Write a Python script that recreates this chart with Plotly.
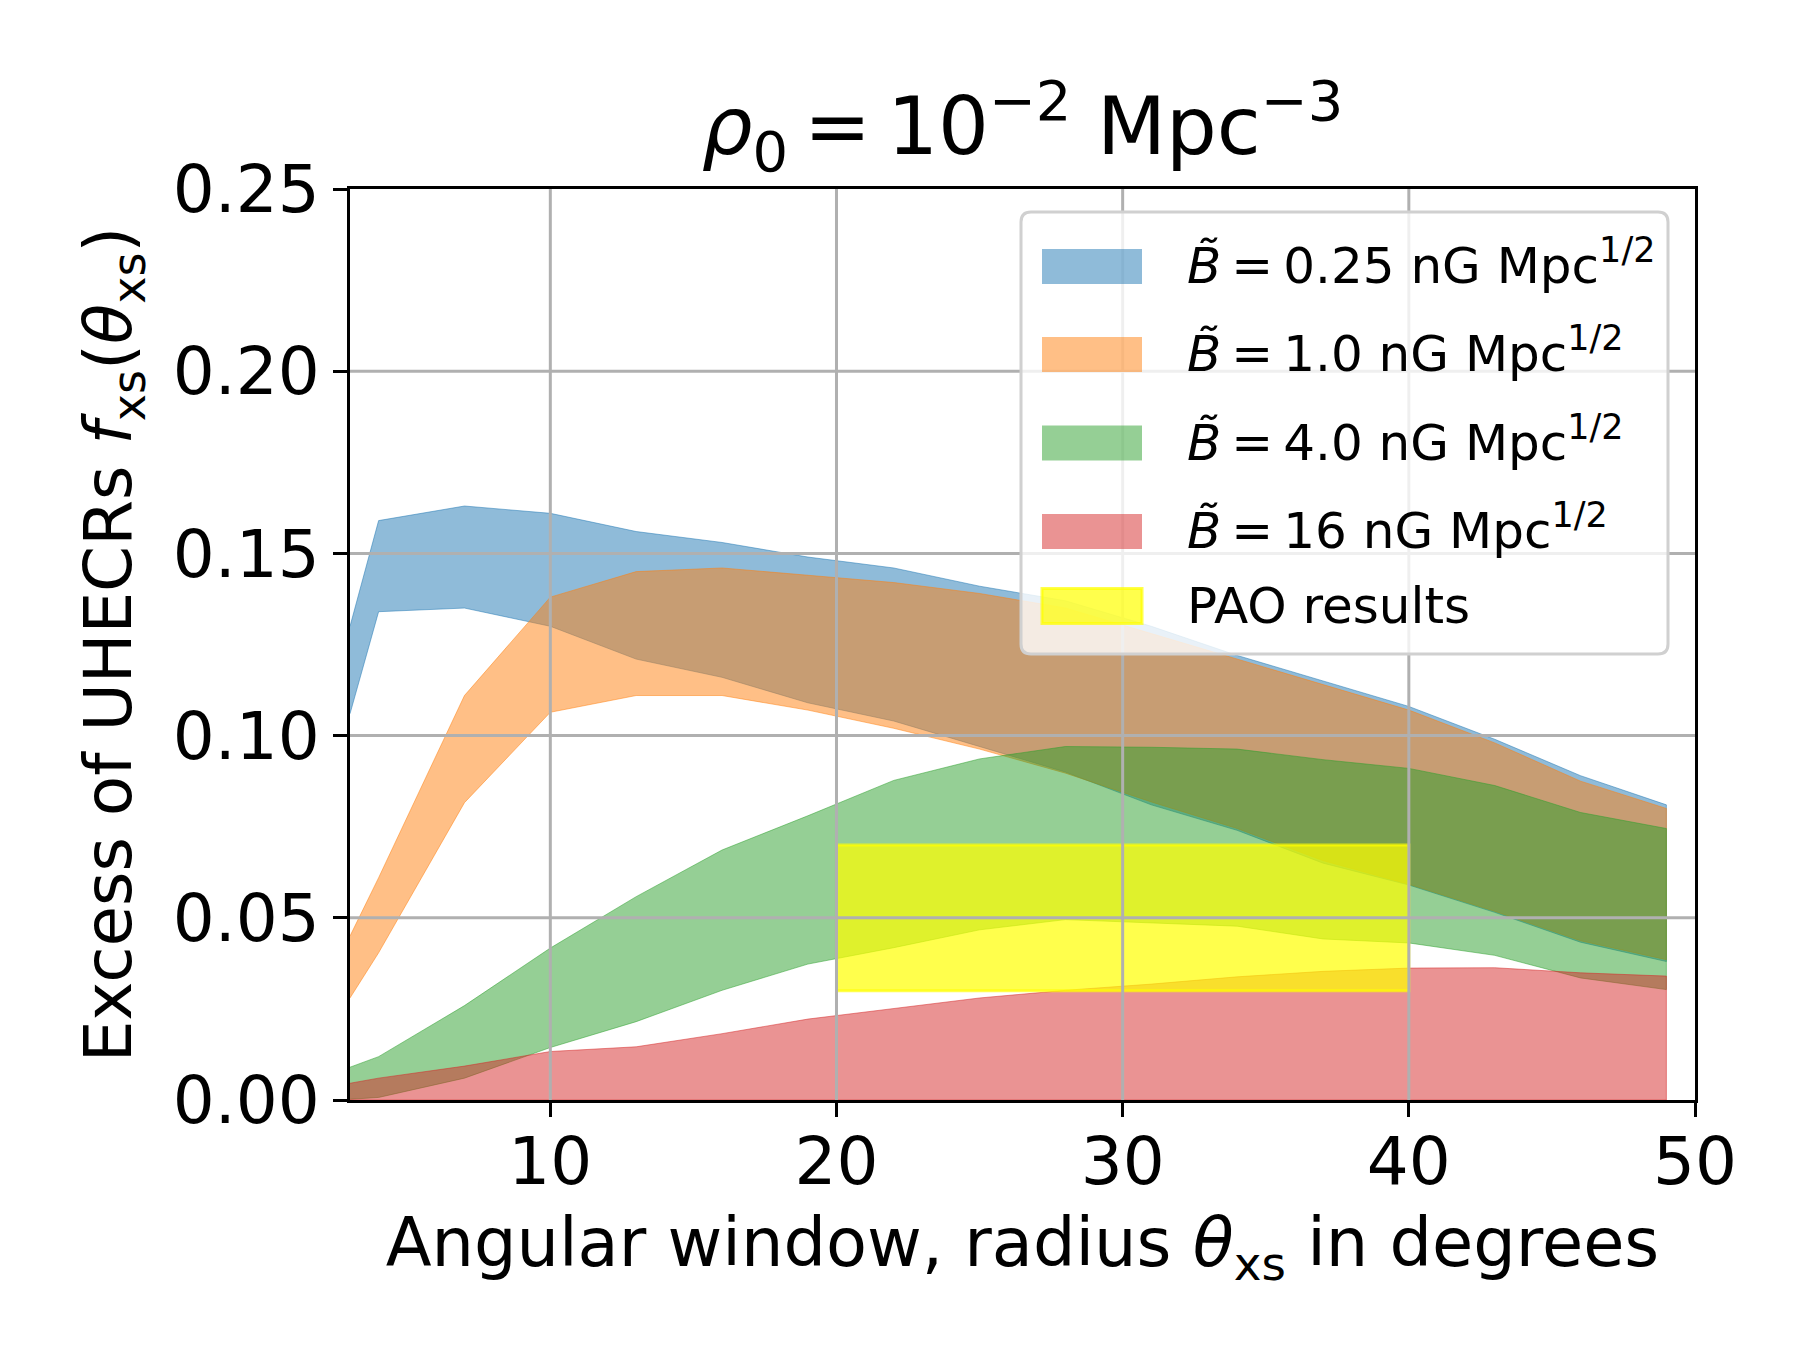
import plotly.graph_objects as go

# angular window radius (degrees) where the bands were sampled
x_deg = [3, 4, 7, 10, 13, 16, 19, 22, 25, 28, 31, 34, 37, 40, 43, 46, 49]

# B = 0.25 nG Mpc^1/2
b025_hi = [0.130, 0.159, 0.163, 0.161, 0.156, 0.153, 0.149, 0.146, 0.141, 0.137, 0.130,
           0.122, 0.115, 0.108, 0.099, 0.089, 0.081]
b025_lo = [0.106, 0.134, 0.135, 0.130, 0.121, 0.116, 0.109, 0.104, 0.097, 0.090, 0.081,
           0.074, 0.065, 0.059, 0.0515, 0.0433, 0.038]
# B = 1.0
b1_hi = [0.045, 0.061, 0.111, 0.138, 0.145, 0.146, 0.144, 0.142, 0.139, 0.135, 0.128,
         0.121, 0.114, 0.107, 0.098, 0.0875, 0.080]
b1_lo = [0.028, 0.0404, 0.0816, 0.1064, 0.111, 0.111, 0.107, 0.102, 0.0963, 0.0897, 0.0818,
         0.0745, 0.0657, 0.0592, 0.0518, 0.0437, 0.0385]
# B = 4.0
b4_hi = [0.009, 0.0119, 0.0259, 0.0417, 0.0558, 0.0686, 0.078, 0.0877, 0.0936, 0.0970, 0.0968,
         0.0963, 0.0934, 0.0910, 0.0863, 0.0789, 0.0745]
b4_lo = [0.0002, 0.0007, 0.0060, 0.0144, 0.0215, 0.0301, 0.0373, 0.0418, 0.0467, 0.0495, 0.0487,
         0.0477, 0.0442, 0.0431, 0.0397, 0.0335, 0.0303]
# B = 16
b16_hi = [0.0046, 0.0060, 0.0093, 0.0133, 0.0146, 0.0182, 0.0222, 0.0250, 0.0280, 0.0301, 0.0318,
          0.0338, 0.0353, 0.0362, 0.0363, 0.0349, 0.0340]
b16_lo = [0.0] * len(x_deg)

# PAO result box
pao_x = [20, 40]
pao_y = [0.03, 0.07]

TS = '\u2009'  # thin space, mathtext-like spacing around '='
labels = [f'<i>B̃</i>{TS}={TS}0.25 nG Mpc<sup>1/2</sup>',
          f'<i>B̃</i>{TS}={TS}1.0 nG Mpc<sup>1/2</sup>',
          f'<i>B̃</i>{TS}={TS}4.0 nG Mpc<sup>1/2</sup>',
          f'<i>B̃</i>{TS}={TS}16 nG Mpc<sup>1/2</sup>',
          'PAO results']
colors = ['rgba(31,119,180,0.5)', 'rgba(255,127,14,0.5)',
          'rgba(44,160,44,0.5)', 'rgba(214,39,40,0.5)', 'rgba(255,255,0,0.7)']

x_ticks = [10, 20, 30, 40, 50]
y_ticks = [0.0, 0.05, 0.10, 0.15, 0.20, 0.25]
x_range = [3, 50]
y_range = [0, 0.25]

FONT = 'DejaVu Sans'
W, H = 1800, 1350
L, R, T, B = 342, 1687, 181, 1092


def px(x):
    return (x - L) / (R - L)


def py(y):
    return (B - y) / (B - T)


fig = go.Figure()

bands = [(b025_hi, b025_lo), (b1_hi, b1_lo), (b4_hi, b4_lo), (b16_hi, b16_lo)]
for (hi, lo), c in zip(bands, colors):
    fig.add_trace(go.Scatter(x=x_deg + x_deg[::-1], y=hi + lo[::-1], fill='toself',
                             fillcolor=c, mode='lines', line=dict(color=c, width=1),
                             hoverinfo='skip', showlegend=False))

fig.add_trace(go.Scatter(x=[pao_x[0], pao_x[1], pao_x[1], pao_x[0], pao_x[0]],
                         y=[pao_y[0], pao_y[0], pao_y[1], pao_y[1], pao_y[0]],
                         fill='toself', fillcolor=colors[4], mode='lines',
                         line=dict(color=colors[4], width=3),
                         hoverinfo='skip', showlegend=False))

shapes = []
# grid on top of the fills, like matplotlib
for v in x_ticks:
    if x_range[0] < v < x_range[1]:
        shapes.append(dict(type='line', xref='x', yref='paper', x0=v, x1=v, y0=0, y1=1,
                           line=dict(color='#b0b0b0', width=3), layer='above'))
for v in y_ticks:
    if y_range[0] < v < y_range[1]:
        shapes.append(dict(type='line', xref='paper', yref='y', x0=0, x1=1, y0=v, y1=v,
                           line=dict(color='#b0b0b0', width=3), layer='above'))

# legend frame (rounded)
lx0, lx1, ly0, ly1 = px(1013), px(1660), py(646), py(204)
rx, ry = 10 / (R - L), 10 / (B - T)
path = (f'M {lx0 + rx},{ly0} L {lx1 - rx},{ly0} Q {lx1},{ly0} {lx1},{ly0 + ry} '
        f'L {lx1},{ly1 - ry} Q {lx1},{ly1} {lx1 - rx},{ly1} '
        f'L {lx0 + rx},{ly1} Q {lx0},{ly1} {lx0},{ly1 - ry} '
        f'L {lx0},{ly0 + ry} Q {lx0},{ly0} {lx0 + rx},{ly0} Z')
shapes.append(dict(type='path', xref='paper', yref='paper', path=path,
                   fillcolor='rgba(255,255,255,0.8)', line=dict(color='#d0d0d0', width=3),
                   layer='above'))

row_y = [258.5, 346.5, 435, 523.5, 598]
annotations = []
for i, (lab, c, ry_) in enumerate(zip(labels, colors, row_y)):
    shapes.append(dict(type='rect', xref='paper', yref='paper',
                       x0=px(1034), x1=px(1134), y0=py(ry_ + 17.5), y1=py(ry_ - 17.5),
                       fillcolor=c, line=dict(color=c if i == 4 else 'rgba(0,0,0,0)', width=3),
                       layer='above'))
    shift = 4 if i < 4 else 0
    annotations.append(dict(text=lab, xref='paper', yref='paper', x=px(1177), y=py(ry_),
                            xanchor='left', yanchor='middle', yshift=shift, showarrow=False,
                            font=dict(family=FONT, size=50, color='black')))

fig.update_layout(
    template='none',
    width=W, height=H, autosize=False,
    margin=dict(l=L, r=W - R, t=T, b=H - B, pad=0),
    paper_bgcolor='white', plot_bgcolor='white',
    font=dict(family=FONT, color='black'),
    title=dict(text=f'<i>ρ</i><sub>0</sub>{TS}={TS}10<sup>−2</sup> Mpc<sup>−3</sup>',
               x=(L + R) / 2 / W, xanchor='center',
               yref='container', y=1 - 118 / H, yanchor='middle',
               font=dict(family=FONT, size=80, color='black')),
    shapes=shapes, annotations=annotations,
    showlegend=False,
)

fig.update_xaxes(range=x_range, tickvals=x_ticks, ticktext=[str(v) for v in x_ticks],
                 showgrid=False, zeroline=False,
                 showline=True, linecolor='black', linewidth=3, mirror=True,
                 ticks='outside', ticklen=14, tickwidth=3, tickcolor='black',
                 tickfont=dict(family=FONT, size=66, color='black'),
                 ticklabelstandoff=-12,
                 layer='above traces',
                 title=dict(text='Angular window, radius <i>θ</i><sub>xs</sub> in degrees',
                            font=dict(family=FONT, size=67, color='black'), standoff=20))
fig.update_yaxes(range=y_range, tickvals=y_ticks, ticktext=[f'{v:.2f}' for v in y_ticks],
                 showgrid=False, zeroline=False,
                 showline=True, linecolor='black', linewidth=3, mirror=True,
                 ticks='outside', ticklen=14, tickwidth=3, tickcolor='black',
                 tickfont=dict(family=FONT, size=66, color='black'),
                 layer='above traces',
                 title=dict(text='Excess of UHECRs <i>f</i><sub>xs</sub>(<i>θ</i><sub>xs</sub>)',
                            font=dict(family=FONT, size=66, color='black'), standoff=20))

fig.write_html('out.html')
